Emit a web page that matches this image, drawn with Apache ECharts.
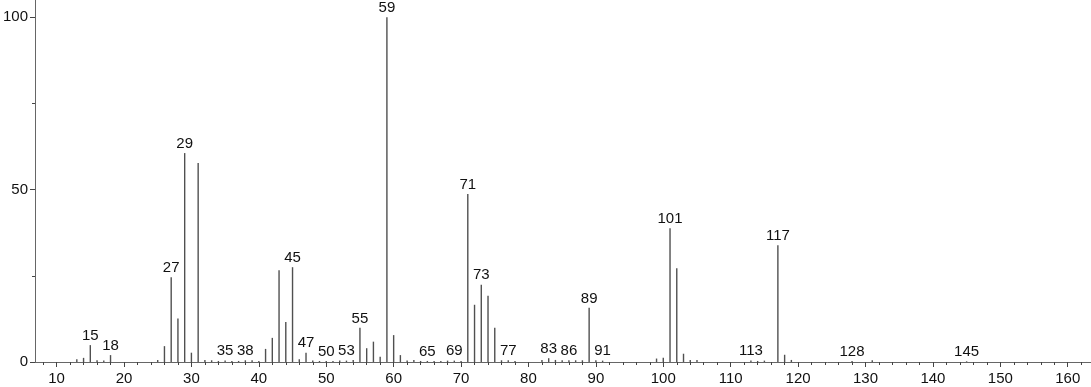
<!DOCTYPE html>
<html>
<head>
<meta charset="utf-8">
<script src="https://cdn.jsdelivr.net/npm/echarts@6/dist/echarts.min.js"></script>
<style>
html,body{margin:0;padding:0;background:#fff;}
#chart{width:1091px;height:387px;}
</style>
</head>
<body>
<div id="chart"></div>
<script>
// m/z values and relative intensities
const mz = [13,14,15,16,17,18,25,26,27,28,29,30,31,32,33,34,35,36,37,38,39,40,41,42,43,44,45,46,47,48,49,50,51,52,53,54,55,56,57,58,59,60,61,62,63,64,65,66,67,68,69,70,71,72,73,74,75,76,77,78,82,83,84,85,86,87,88,89,90,91,99,100,101,102,103,104,105,113,114,115,117,118,119,128,131,145];
const intensity = [0.8,1.2,4.9,0.5,0.4,2.0,0.6,4.6,24.6,12.6,60.6,2.7,57.7,0.6,0.5,0.3,0.4,0.3,0.3,0.5,0.5,0.3,3.8,7.0,26.6,11.6,27.5,0.8,2.7,0.4,0.3,0.3,0.3,0.4,0.4,0.6,9.9,4.0,5.9,1.5,100,7.8,2.0,0.4,0.6,0.3,0.3,0.3,0.3,0.4,0.4,0.3,48.7,16.6,22.4,19.2,9.9,0.5,0.5,0.3,0.6,1.1,0.6,0.5,0.5,0.5,0.5,15.7,0.5,0.4,1.0,1.2,38.8,27.2,2.4,0.6,0.6,0.4,0.3,0.4,33.9,2.1,0.6,0.3,0.5,0.2];
const labeledMz = [15,18,27,29,35,38,45,47,50,53,55,59,65,69,71,73,77,83,86,89,91,101,113,117,128,145];
const xMajorTicks = [10,20,30,40,50,60,70,80,90,100,110,120,130,140,150,160];
const xMinorTicks = [8,12,14,16,18,22,24,26,28,32,34,36,38,42,44,46,48,52,54,56,58,62,64,66,68,72,74,76,78,82,84,86,88,92,94,96,98,102,104,106,108,112,114,116,118,122,124,126,128,132,134,136,138,142,144,146,148,152,154,156,158,162];
const yMajorTicks = [0,50,100];
const yMinorTicks = [25,75];

// labels for peaks in labeledMz that are not in mz get a zero-height entry
const allMz = mz.slice();
const allInt = intensity.slice();
labeledMz.forEach(m => { if (allMz.indexOf(m) < 0) { allMz.push(m); allInt.push(0); } });

const seriesData = allMz.map((m, i) => ({
  value: [m, allInt[i]],
  label: { show: labeledMz.indexOf(m) >= 0 }
}));

const font = '"Liberation Sans", Arial, Helvetica, sans-serif';
const xmin = 6.8, xmax = 163.45, ymin = 0, ymax = 105;

const chart = echarts.init(document.getElementById('chart'), null, {renderer: 'canvas'});
chart.setOption({
  animation: false,
  backgroundColor: '#fff',
  grid: { left: 30, right: 0, top: 0, bottom: 25, containLabel: false },
  xAxis: [
    {
      type: 'value', min: xmin, max: xmax,
      axisLine: { show: true, lineStyle: { color: '#666', width: 1 } },
      axisTick: { show: true, customValues: xMajorTicks, length: 5, lineStyle: { color: '#444' } },
      axisLabel: { show: true, customValues: xMajorTicks, color: '#111', fontSize: 15, fontFamily: font, margin: 9 },
      splitLine: { show: false }
    },
    {
      type: 'value', min: xmin, max: xmax, position: 'bottom',
      axisLine: { show: false },
      axisTick: { show: true, customValues: xMinorTicks, length: 3, lineStyle: { color: '#444' } },
      axisLabel: { show: false },
      splitLine: { show: false }
    }
  ],
  yAxis: [
    {
      type: 'value', min: ymin, max: ymax,
      axisLine: { show: true, lineStyle: { color: '#666', width: 1 } },
      axisTick: { show: true, customValues: yMajorTicks, length: 5, lineStyle: { color: '#444' } },
      axisLabel: { show: true, customValues: yMajorTicks, color: '#111', fontSize: 15, fontFamily: font, margin: 7 },
      splitLine: { show: false }
    },
    {
      type: 'value', min: ymin, max: ymax, position: 'left',
      axisLine: { show: false },
      axisTick: { show: true, customValues: yMinorTicks, length: 3, lineStyle: { color: '#444' } },
      axisLabel: { show: false },
      splitLine: { show: false }
    }
  ],
  series: [{
    type: 'bar',
    xAxisIndex: 0, yAxisIndex: 0,
    barWidth: 1.4,
    itemStyle: { color: '#505050' },
    label: {
      show: false, position: 'top', distance: 2,
      color: '#111', fontSize: 15, fontFamily: font,
      formatter: p => String(p.value[0])
    },
    labelLayout: { hideOverlap: false },
    data: seriesData
  }]
});
</script>
</body>
</html>
